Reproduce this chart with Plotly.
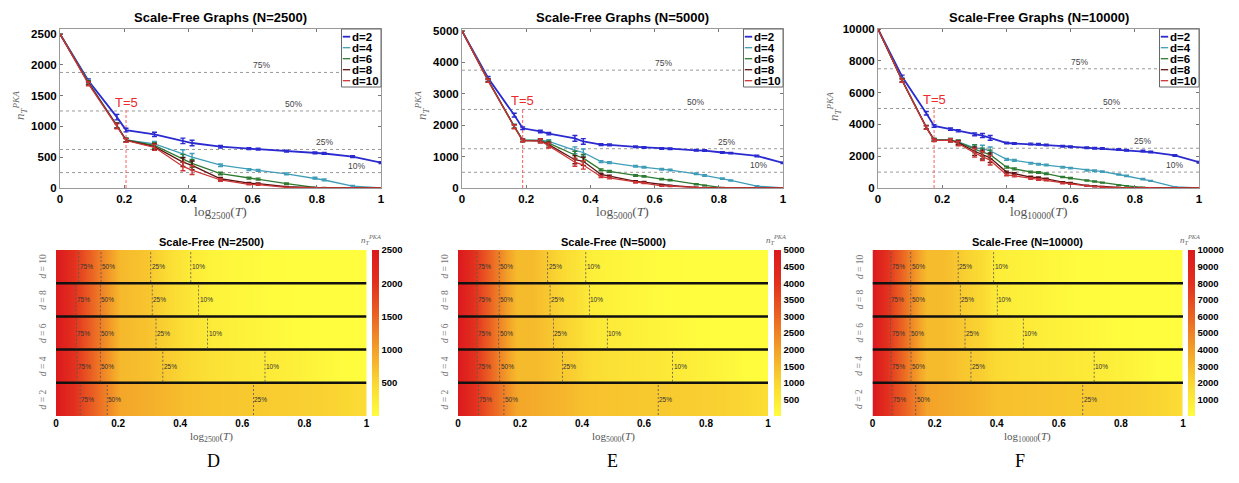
import math
import plotly.graph_objects as go

# the page body adds an 8px margin; the figure is sized so it ends at the window edge
PAGE_OFF = 8
W, H = 1239 - PAGE_OFF, 483 - PAGE_OFF

# ---------------- data ----------------
N_values = [2500, 5000, 10000]
d_values = [2, 4, 6, 8, 10]
pct_labels = ["75%", "50%", "25%", "10%"]
pct_fracs = [0.75, 0.50, 0.25, 0.10]
panel_letters = ["D", "E", "F"]

T_2500 = [1, 2, 4, 5, 10, 20, 25, 50, 100, 125, 250, 500, 625, 1250, 2500]
T_5000 = [1, 2, 4, 5, 8, 10, 20, 25, 40, 50, 100, 125, 200, 250, 500, 625, 1000, 1250, 2500, 5000]
T_10000 = [1, 2, 4, 5, 8, 10, 16, 20, 25, 40, 50, 80, 100, 125, 200, 250, 400, 500, 625,
           1000, 1250, 2000, 2500, 5000, 10000]

n2500_d2 = [2500, 1740, 1150, 940, 870, 765, 730, 670, 640, 630, 600, 570, 560, 510, 410]
n2500_d4 = [2500, 1720, 1020, 780, 715, 560, 500, 370, 300, 285, 230, 160, 130, 30, 0]
n2500_d6 = [2500, 1710, 1010, 780, 690, 480, 400, 235, 160, 145, 70, 10, 5, 0, 0]
n2500_d8 = [2500, 1700, 1010, 775, 670, 420, 367, 150, 80, 70, 20, 0, 0, 0, 0]
n2500_d10 = [2500, 1690, 1000, 770, 660, 350, 290, 130, 60, 55, 10, 0, 0, 0, 0]

n5000_d2 = [5000, 3500, 2320, 1900, 1800, 1730, 1580, 1480, 1380, 1370, 1310, 1290, 1260, 1250,
            1200, 1190, 1130, 1110, 1020, 800]
n5000_d4 = [5000, 3440, 1970, 1530, 1520, 1480, 1200, 1130, 840, 810, 690, 660, 600, 570,
            450, 400, 300, 240, 60, 0]
n5000_d6 = [5000, 3430, 1960, 1520, 1510, 1430, 1050, 950, 580, 530, 400, 370, 280, 250,
            120, 80, 10, 5, 0, 0]
n5000_d8 = [5000, 3420, 1950, 1510, 1500, 1380, 900, 850, 430, 380, 210, 190, 100, 80,
            20, 10, 0, 0, 0, 0]
n5000_d10 = [5000, 3410, 1950, 1510, 1500, 1350, 820, 730, 360, 320, 180, 160, 70, 60,
             10, 5, 0, 0, 0, 0]

n10000_d2 = [10000, 7000, 4700, 3900, 3700, 3600, 3380, 3300, 3150, 2830, 2800, 2770, 2750, 2700,
             2630, 2600, 2530, 2500, 2480, 2420, 2380, 2320, 2260, 2050, 1620]
n10000_d4 = [10000, 6800, 3830, 3050, 3030, 2900, 2520, 2470, 2340, 1800, 1740, 1550, 1500, 1440,
             1310, 1250, 1120, 1080, 1030, 850, 760, 560, 450, 65, 0]
n10000_d6 = [10000, 6780, 3820, 3030, 3010, 2870, 2460, 2250, 2100, 1310, 1200, 1010, 970, 900,
             690, 620, 470, 410, 340, 170, 130, 40, 20, 0, 0]
n10000_d8 = [10000, 6750, 3810, 3010, 3000, 2850, 2310, 2100, 1900, 1000, 900, 690, 650, 580,
             365, 320, 150, 110, 80, 30, 20, 0, 0, 0, 0]
n10000_d10 = [10000, 6750, 3800, 3000, 3000, 2800, 2210, 2000, 1750, 830, 760, 590, 540, 490,
              300, 260, 130, 90, 60, 20, 10, 0, 0, 0, 0]

err2500_d2 = [0, 30, 45, 30, 35, 45, 45, 20, 15, 15, 15, 15, 15, 15, 15]
err2500_d4 = [0, 30, 40, 30, 40, 60, 60, 20, 15, 15, 15, 15, 15, 12, 0]
err2500_d6 = [0, 30, 40, 30, 45, 65, 65, 20, 15, 15, 10, 5, 5, 0, 0]
err2500_d8 = [0, 30, 40, 30, 50, 70, 70, 20, 10, 10, 5, 0, 0, 0, 0]
err2500_d10 = [0, 30, 40, 30, 50, 70, 70, 20, 10, 10, 5, 0, 0, 0, 0]

err5000_d2 = [0, 50, 60, 40, 40, 40, 90, 90, 30, 30, 25, 25, 25, 25, 25, 25, 25, 25, 25, 25]
err5000_d4 = [0, 50, 60, 40, 50, 60, 110, 110, 30, 30, 25, 25, 25, 25, 25, 25, 20, 20, 15, 0]
err5000_d6 = [0, 50, 60, 40, 50, 70, 120, 120, 30, 30, 25, 25, 20, 20, 15, 10, 5, 5, 0, 0]
err5000_d8 = [0, 50, 60, 40, 60, 80, 130, 130, 30, 30, 20, 20, 15, 10, 5, 5, 0, 0, 0, 0]
err5000_d10 = [0, 50, 60, 40, 60, 80, 130, 130, 30, 30, 20, 20, 15, 10, 5, 5, 0, 0, 0, 0]

err10000_d2 = [0, 100, 110, 80, 70, 70, 90, 130, 150, 50, 50, 50, 50, 50, 50, 50, 50, 50, 50,
               50, 50, 50, 50, 50, 50]
err10000_d4 = [0, 100, 110, 80, 90, 110, 200, 220, 240, 60, 60, 50, 50, 50, 50, 50, 50, 50, 50,
               40, 40, 40, 30, 20, 0]
err10000_d6 = [0, 100, 110, 80, 100, 130, 250, 260, 280, 60, 60, 50, 50, 50, 40, 40, 30, 30, 30,
               20, 15, 10, 5, 0, 0]
err10000_d8 = [0, 100, 110, 80, 100, 140, 270, 280, 300, 60, 60, 50, 50, 40, 30, 30, 20, 15, 10,
               5, 5, 0, 0, 0, 0]
err10000_d10 = [0, 100, 110, 80, 100, 140, 270, 280, 300, 60, 60, 50, 50, 40, 30, 30, 20, 15, 10,
                5, 5, 0, 0, 0, 0]

# threshold crossings (log_N(T)) marked on the heatmaps: 75%, 50%, 25%, 10%
cross2500_d2 = [0.078, 0.165, 0.636]
cross2500_d4 = [0.068, 0.143, 0.344, 0.673]
cross2500_d6 = [0.066, 0.143, 0.322, 0.488]
cross2500_d8 = [0.064, 0.143, 0.310, 0.459]
cross2500_d10 = [0.073, 0.145, 0.305, 0.434]

cross5000_d2 = [0.066, 0.148, 0.646]
cross5000_d4 = [0.062, 0.134, 0.337, 0.692]
cross5000_d6 = [0.061, 0.131, 0.308, 0.482]
cross5000_d8 = [0.061, 0.133, 0.297, 0.424]
cross5000_d10 = [0.061, 0.133, 0.289, 0.412]

cross10000_d2 = [0.063, 0.139, 0.677]
cross10000_d4 = [0.060, 0.124, 0.317, 0.714]
cross10000_d6 = [0.058, 0.121, 0.298, 0.486]
cross10000_d8 = [0.057, 0.123, 0.283, 0.402]
cross10000_d10 = [0.059, 0.123, 0.276, 0.390]

ytick_2500 = [0, 500, 1000, 1500, 2000, 2500]
ytick_5000 = [0, 1000, 2000, 3000, 4000, 5000]
ytick_10000 = [0, 2000, 4000, 6000, 8000, 10000]
cbtick_2500 = [500, 1000, 1500, 2000, 2500]
cbtick_5000 = [500, 1000, 1500, 2000, 2500, 3000, 3500, 4000, 4500, 5000]
cbtick_10000 = [1000, 2000, 3000, 4000, 5000, 6000, 7000, 8000, 9000, 10000]
xticks = [0, 0.2, 0.4, 0.6, 0.8, 1]
xticktext = ["0", "0.2", "0.4", "0.6", "0.8", "1"]
T_marker = 5

# ---------------- styling / layout ----------------
line_colors = ["#2a2ad0", "#3f9db8", "#2d7a30", "#5e1212", "#cc3535"]
line_widths = [1.8, 1.3, 1.3, 1.3, 1.3]
SANS = "Liberation Sans, Arial, sans-serif"
SERIF = "Liberation Serif, DejaVu Serif, serif"

panels = [
    dict(N=2500, T=T_2500, n=[n2500_d2, n2500_d4, n2500_d6, n2500_d8, n2500_d10],
         e=[err2500_d2, err2500_d4, err2500_d6, err2500_d8, err2500_d10],
         c=[cross2500_d2, cross2500_d4, cross2500_d6, cross2500_d8, cross2500_d10],
         yt=ytick_2500, cbt=cbtick_2500, ymax=2580,
         lx=(60, 381), hx=(56, 366.5), cbx=372, ylab=20, cblab=371, letter_x=213),
    dict(N=5000, T=T_5000, n=[n5000_d2, n5000_d4, n5000_d6, n5000_d8, n5000_d10],
         e=[err5000_d2, err5000_d4, err5000_d6, err5000_d8, err5000_d10],
         c=[cross5000_d2, cross5000_d4, cross5000_d6, cross5000_d8, cross5000_d10],
         yt=ytick_5000, cbt=cbtick_5000, ymax=5060,
         lx=(462, 783), hx=(458, 768), cbx=773.5, ylab=422, cblab=776, letter_x=612),
    dict(N=10000, T=T_10000, n=[n10000_d2, n10000_d4, n10000_d6, n10000_d8, n10000_d10],
         e=[err10000_d2, err10000_d4, err10000_d6, err10000_d8, err10000_d10],
         c=[cross10000_d2, cross10000_d4, cross10000_d6, cross10000_d8, cross10000_d10],
         yt=ytick_10000, cbt=cbtick_10000, ymax=10000,
         lx=(878, 1199), hx=(872.5, 1183), cbx=1188, ylab=834, cblab=1190, letter_x=1020),
]

LINE_Y = (29, 188)
HEAT_Y = (250, 416)


def fx(px):
    return (px - PAGE_OFF) / W


def fy(py):
    return 1 - (py - PAGE_OFF) / H


def ax_id(idx):
    return ("x" if idx == 1 else f"x{idx}"), ("y" if idx == 1 else f"y{idx}")


def ann(**kw):
    kw.setdefault("showarrow", False)
    kw.setdefault("xanchor", "center")
    kw.setdefault("yanchor", "middle")
    return kw


colorscale = [[0.0, "rgb(255,253,62)"], [0.2, "rgb(250,215,50)"], [0.4, "rgb(243,160,40)"],
              [0.6, "rgb(235,100,35)"], [0.8, "rgb(226,48,30)"], [1.0, "rgb(220,25,30)"]]

fig = go.Figure()
shapes = []
annotations = []
layout_axes = {}

tickfont = dict(family=SANS, size=11.5, color="black", weight="bold")
htickfont = dict(family=SANS, size=10, color="black", weight="bold")

for i, p in enumerate(panels):
    N = p["N"]
    xs = [math.log(t) / math.log(N) for t in p["T"]]
    li = i + 1
    hi = i + 4
    lxn, lyn = ax_id(li)
    hxn, hyn = ax_id(hi)
    lxk = "xaxis" if li == 1 else f"xaxis{li}"
    lyk = "yaxis" if li == 1 else f"yaxis{li}"

    # ---- line plot ----
    for k, d in enumerate(d_values):
        fig.add_trace(go.Scatter(
            x=xs, y=p["n"][k], mode="lines", name=f"d={d}",
            line=dict(color=line_colors[k], width=line_widths[k]),
            error_y=dict(type="data", array=p["e"][k], visible=True, width=2.5,
                         thickness=1.4, color=line_colors[k]),
            xaxis=lxn, yaxis=lyn, showlegend=False, hoverinfo="skip"))

    layout_axes[lxk] = dict(
        domain=[fx(p["lx"][0]), fx(p["lx"][1])], range=[0, 1], anchor=lyn,
        tickvals=xticks, ticktext=xticktext,
        ticks="inside", ticklen=3, tickcolor="#777", showline=True, linecolor="#9a9a9a",
        linewidth=1, mirror="ticks", showgrid=False, zeroline=False, tickfont=tickfont,
        automargin=False)
    layout_axes[lyk] = dict(
        domain=[fy(LINE_Y[1]), fy(LINE_Y[0])], range=[0, p["ymax"]], anchor=lxn,
        tickvals=p["yt"], ticktext=[str(v) for v in p["yt"]],
        ticks="inside", ticklen=3, tickcolor="#777", showline=True, linecolor="#9a9a9a",
        linewidth=1, mirror="ticks", showgrid=False, zeroline=False, tickfont=tickfont,
        automargin=False)

    # percentage reference lines
    for lab, fr, lxpos in zip(pct_labels, pct_fracs, [0.628, 0.727, 0.824, 0.925]):
        shapes.append(dict(type="line", xref=lxn, yref=lyn, x0=0, x1=1, y0=fr * N, y1=fr * N,
                           line=dict(color="#9a9a9a", width=1, dash="3px,3px"), layer="below"))
        annotations.append(ann(xref=lxn, yref=lyn, x=lxpos, y=fr * N, text=lab,
                               yanchor="bottom", yshift=0,
                               font=dict(family=SANS, size=8.5, color="#444")))
    # T=5 marker
    xT = math.log(T_marker) / math.log(N)
    shapes.append(dict(type="line", xref=lxn, yref=lyn, x0=xT, x1=xT, y0=0, y1=0.51 * N,
                       line=dict(color="#ff5a5a", width=1, dash="3px,2px"), layer="below"))
    annotations.append(ann(xref=lxn, yref=lyn, x=xT, y=0.555 * N, text=f"T={T_marker}",
                           font=dict(family=SANS, size=13, color="#ee2a2a")))

    # manual legend
    lg_x0, lg_y0 = 0.877, 1 - (87 - 29) / (LINE_Y[1] - LINE_Y[0])
    shapes.append(dict(type="rect", xref=f"{lxn} domain", yref=f"{lyn} domain",
                       x0=lg_x0, x1=1.0, y0=lg_y0, y1=1.0,
                       line=dict(color="#666", width=1), fillcolor="white"))
    for k, d in enumerate(d_values):
        ypx = 36.7 + k * 11
        yy = (LINE_Y[1] - ypx) / (LINE_Y[1] - LINE_Y[0])
        shapes.append(dict(type="line", xref=f"{lxn} domain", yref=f"{lyn} domain",
                           x0=lg_x0 + 0.004, x1=lg_x0 + 0.027, y0=yy, y1=yy,
                           line=dict(color=line_colors[k], width=line_widths[k])))
        annotations.append(ann(xref=f"{lxn} domain", yref=f"{lyn} domain",
                               x=lg_x0 + 0.026, y=yy, text=f"d={d}", xanchor="left",
                               font=dict(family=SANS, size=11.5, color="black", weight="bold")))

    # titles / labels
    cx = (p["lx"][0] + p["lx"][1]) / 2
    annotations.append(ann(xref="paper", yref="paper", x=fx(cx), y=fy(18),
                           text=f"Scale-Free Graphs (N={N})",
                           font=dict(family=SANS, size=13, color="black", weight="bold")))
    annotations.append(ann(xref="paper", yref="paper", x=fx(cx), y=fy(212),
                           text=f"log<sub>{N}</sub>(<i>T</i>)",
                           font=dict(family=SERIF, size=13.5, color="#555")))
    annotations.append(ann(xref="paper", yref="paper", x=fx(p["ylab"]), y=fy(106),
                           text="<i>n</i><sub><i>T</i></sub><sup><i>PKA</i></sup>",
                           textangle=-90, font=dict(family=SERIF, size=13, color="#666")))

    # ---- heatmap ----
    z, yy = [], []
    for k in range(len(d_values)):
        z.append(p["n"][k])
        z.append(p["n"][k])
        yy.append(k + 0.002)
        yy.append(k + 0.998)
    fig.add_trace(go.Heatmap(
        x=xs, y=yy, z=z, zsmooth="best", colorscale=colorscale, zmin=0, zmax=N,
        xaxis=hxn, yaxis=hyn, hoverinfo="skip",
        colorbar=dict(x=fx(p["cbx"]), xanchor="left", xpad=0, y=fy(HEAT_Y[0]), yanchor="top",
                      ypad=0, len=HEAT_Y[1] - HEAT_Y[0], lenmode="pixels", thickness=7,
                      thicknessmode="pixels", outlinewidth=0, tickvals=p["cbt"],
                      ticktext=[str(v) for v in p["cbt"]], ticks="",
                      tickfont=dict(family=SANS, size=9.5, color="black", weight="bold"))))
    layout_axes[f"xaxis{hi}"] = dict(
        domain=[fx(p["hx"][0]), fx(p["hx"][1])], range=[0, 1], anchor=hyn,
        tickvals=xticks, ticktext=xticktext, ticks="",
        showline=False, showgrid=False, zeroline=False, tickfont=htickfont, automargin=False)
    layout_axes[f"yaxis{hi}"] = dict(
        domain=[fy(HEAT_Y[1]), fy(HEAT_Y[0])], range=[0, len(d_values)], anchor=hxn,
        showticklabels=False, ticks="", showline=False, showgrid=False, zeroline=False,
        automargin=False)

    for k in range(1, len(d_values)):
        shapes.append(dict(type="line", xref=hxn, yref=hyn, x0=0, x1=1, y0=k, y1=k,
                           line=dict(color="#111", width=2.5)))
    hw = p["hx"][1] - p["hx"][0]
    for k, d in enumerate(d_values):
        for lab, cxv in zip(pct_labels, p["c"][k]):
            shapes.append(dict(type="line", xref=hxn, yref=hyn, x0=cxv, x1=cxv,
                               y0=k + 0.03, y1=k + 0.97,
                               line=dict(color="#555", width=0.8, dash="2px,2px")))
            annotations.append(ann(xref=hxn, yref=hyn, x=cxv, y=k + 0.5, text=lab,
                                   xanchor="left", xshift=-1,
                                   font=dict(family=SANS, size=6.5, color="#333")))
        annotations.append(ann(xref=f"{hxn} domain", yref=hyn,
                               x=-13 / hw, y=k + 0.5, text=f"<i>d</i> = {d}",
                               textangle=-90,
                               font=dict(family=SERIF, size=9.5, color="#777")))

    hcx = (p["hx"][0] + p["hx"][1]) / 2
    annotations.append(ann(xref="paper", yref="paper", x=fx(hcx), y=fy(242),
                           text=f"Scale-Free (N={N})",
                           font=dict(family=SANS, size=11, color="black", weight="bold")))
    annotations.append(ann(xref="paper", yref="paper", x=fx(hcx), y=fy(437),
                           text=f"log<sub>{N}</sub>(<i>T</i>)",
                           font=dict(family=SERIF, size=11, color="#555")))
    annotations.append(ann(xref="paper", yref="paper", x=fx(p["cblab"]), y=fy(240),
                           text="<i>n</i><sub><i>T</i></sub><sup><i>PKA</i></sup>",
                           font=dict(family=SERIF, size=9, color="#666")))
    annotations.append(ann(xref="paper", yref="paper", x=fx(p["letter_x"]), y=fy(461),
                           text=panel_letters[i],
                           font=dict(family=SERIF, size=18, color="black")))

fig.update_layout(
    width=W, height=H, margin=dict(l=0, r=0, t=0, b=0, pad=0, autoexpand=False),
    paper_bgcolor="white", plot_bgcolor="white", showlegend=False,
    shapes=shapes, annotations=annotations, **layout_axes)

fig.write_html("out.html")
